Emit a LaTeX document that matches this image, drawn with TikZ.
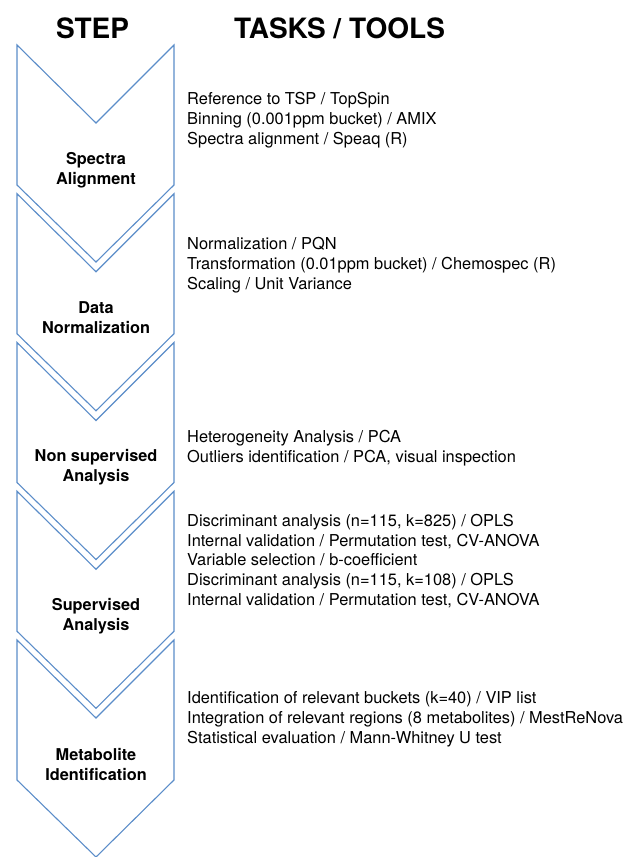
\documentclass[tikz,border=0pt]{standalone}
\usepackage{fontspec}
\setmainfont{TeX Gyre Heros}
\definecolor{chev}{RGB}{91,141,201}
\begin{document}
\begin{tikzpicture}[x=1pt,y=-1pt,
  chevron/.style={draw=chev, line width=1.1pt, fill=white, line join=miter},
  head/.style={font=\fontsize{28}{32}\selectfont\bfseries, inner sep=0},
  steplabel/.style={font=\fontsize{16.3}{20}\selectfont\bfseries, align=center, inner sep=0},
  tasks/.style={font=\fontsize{16.4}{19.8}\selectfont, align=left, anchor=west, inner sep=0}]
\useasboundingbox (0,0) rectangle (629,857);
\foreach \t in {45,193.75,342.5,491.25,640}{
  \draw[chevron] (17,\t) -- (96,\t+78) -- (174,\t) -- (174,\t+140) -- (96,\t+217) -- (17,\t+140) -- cycle;
}
\node[head] (hstep) at (92.5,28) {STEP};
\node[head] (htasks) at (339.5,28) {TASKS / TOOLS};

\node[steplabel] (s1) at (96,170) {Spectra\\Alignment};
\node[steplabel] (s2) at (96,318) {Data\\Normalization};
\node[steplabel] (s3) at (96,467) {Non supervised\\Analysis};
\node[steplabel] (s4) at (96,616) {Supervised\\Analysis};
\node[steplabel] (s5) at (96,764) {Metabolite\\Identification};

\node[tasks] (t1) at (187,120) {Reference to TSP / TopSpin\\Binning (0.001ppm bucket) / AMIX\\Spectra alignment / Speaq (R)};
\node[tasks] (t2) at (187,265) {Normalization / PQN\\Transformation (0.01ppm bucket) / Chemospec (R)\\Scaling / Unit Variance};
\node[tasks] (t3) at (187,448) {Heterogeneity Analysis / PCA\\Outliers identification / PCA, visual inspection};
\node[tasks] (t4) at (187,561) {Discriminant analysis (n=115, k=825) / OPLS\\Internal validation / Permutation test, CV-ANOVA\\Variable selection / b-coefficient\\Discriminant analysis (n=115, k=108) / OPLS\\Internal validation / Permutation test, CV-ANOVA};
\node[tasks] (t5) at (187,719.5) {Identification of relevant buckets (k=40) / VIP list\\Integration of relevant regions (8 metabolites) / MestReNova\\Statistical evaluation / Mann-Whitney U test};
\end{tikzpicture}
\end{document}
